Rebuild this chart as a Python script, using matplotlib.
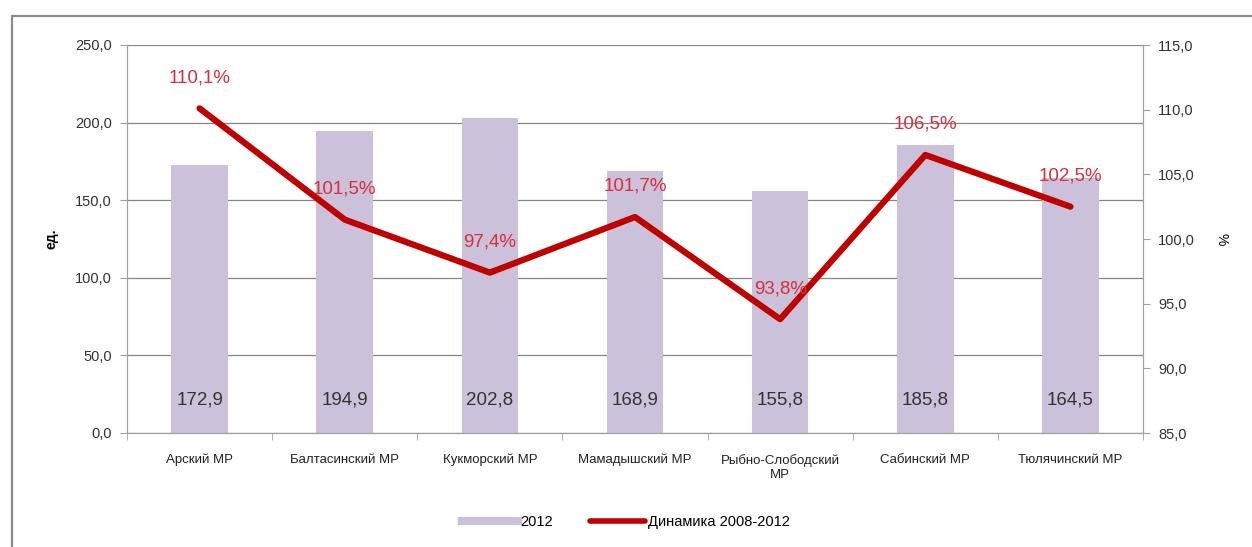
import numpy as np
import matplotlib.pyplot as plt
from matplotlib.lines import Line2D
from matplotlib.patches import Rectangle

plt.rcParams['font.family'] = ['Liberation Sans', 'DejaVu Sans']

# данные
districts = ['Арский МР', 'Балтасинский МР', 'Кукморский МР', 'Мамадышский МР',
             'Рыбно-Слободский\nМР', 'Сабинский МР', 'Тюлячинский МР']
values_2012 = [172.9, 194.9, 202.8, 168.9, 155.8, 185.8, 164.5]
dynamics = [110.1, 101.5, 97.4, 101.7, 93.8, 106.5, 102.5]

bar_color = '#CCC1DA'
line_color = '#C00000'
grid_color = '#868686'

def fmt(v, suffix=''):
    return '{:.1f}'.format(v).replace('.', ',') + suffix

fig = plt.figure(figsize=(12.52, 5.47), dpi=100)
fig.patches.append(Rectangle((12 / 1252, -0.1), 1.2, 1 - 16 / 547 + 0.1,
                             transform=fig.transFigure, fill=False,
                             edgecolor='#8C8C8C', lw=1.6))

ax = fig.add_axes([127 / 1252, 1 - 433 / 547, 1016 / 1252, 388 / 547])
x = np.arange(len(districts))

ax.bar(x, values_2012, width=0.39, color=bar_color, zorder=2)
ax.set_ylim(0, 250)
ax.set_xlim(-0.5, len(districts) - 0.5)
ax.set_yticks(np.arange(0, 251, 50))
ax.set_yticklabels([fmt(v) for v in np.arange(0, 251, 50)], fontsize=10.5, color='#333333')
ax.yaxis.grid(True, color=grid_color, lw=0.9, zorder=0)
ax.set_axisbelow(True)
ax.set_ylabel('ед.', fontsize=10, fontweight='bold', labelpad=12)

ax.set_xticks(x)
ax.set_xticklabels(districts, fontsize=9.5, color='#222222')
ax.tick_params(axis='x', length=0, pad=15)
ax.set_xticks(np.arange(-0.5, len(districts)), minor=True)
ax.tick_params(axis='x', which='minor', length=5, color='#A0A0A0')
ax.tick_params(axis='y', length=5, color='#A0A0A0', pad=6)

ax.spines['top'].set_visible(False)
for s in ['left', 'right', 'bottom']:
    ax.spines[s].set_color('#A0A0A0')

for xi, v in zip(x, values_2012):
    ax.annotate(fmt(v), (xi, 0), xytext=(0, 24), textcoords='offset points',
                ha='center', va='center', fontsize=13.5, color='#333333', zorder=5)

ax2 = ax.twinx()
ax2.plot(x, dynamics, color=line_color, lw=4.5, solid_capstyle='round', zorder=4)
ax2.set_ylim(85, 115)
ax2.set_yticks(np.arange(85, 116, 5))
ax2.set_yticklabels([fmt(v) for v in np.arange(85, 116, 5)], fontsize=10.5, color='#333333')
ax2.tick_params(axis='y', length=5, color='#A0A0A0', pad=6)
ax2.set_ylabel('%', fontsize=10, labelpad=14, rotation=270, va='bottom')
ax2.spines['top'].set_visible(False)
for s in ['left', 'right', 'bottom']:
    ax2.spines[s].set_color('#A0A0A0')

for xi, v in zip(x, dynamics):
    ax2.annotate(fmt(v, '%'), (xi, v), xytext=(0, 22), textcoords='offset points',
                 ha='center', va='center', fontsize=13.5, color='#D8303A', zorder=6)

handles = [Line2D([0], [0], color=bar_color, lw=6),
           Line2D([0], [0], color=line_color, lw=4, solid_capstyle='round')]
fig.legend(handles, ['2012', 'Динамика 2008-2012'], loc='center',
           bbox_to_anchor=(0.5, 1 - 522 / 547), ncol=2, frameon=False,
           fontsize=10.5, handlelength=3.8, handletextpad=0.2, columnspacing=2.5)

fig.savefig('out.png', dpi=100)
